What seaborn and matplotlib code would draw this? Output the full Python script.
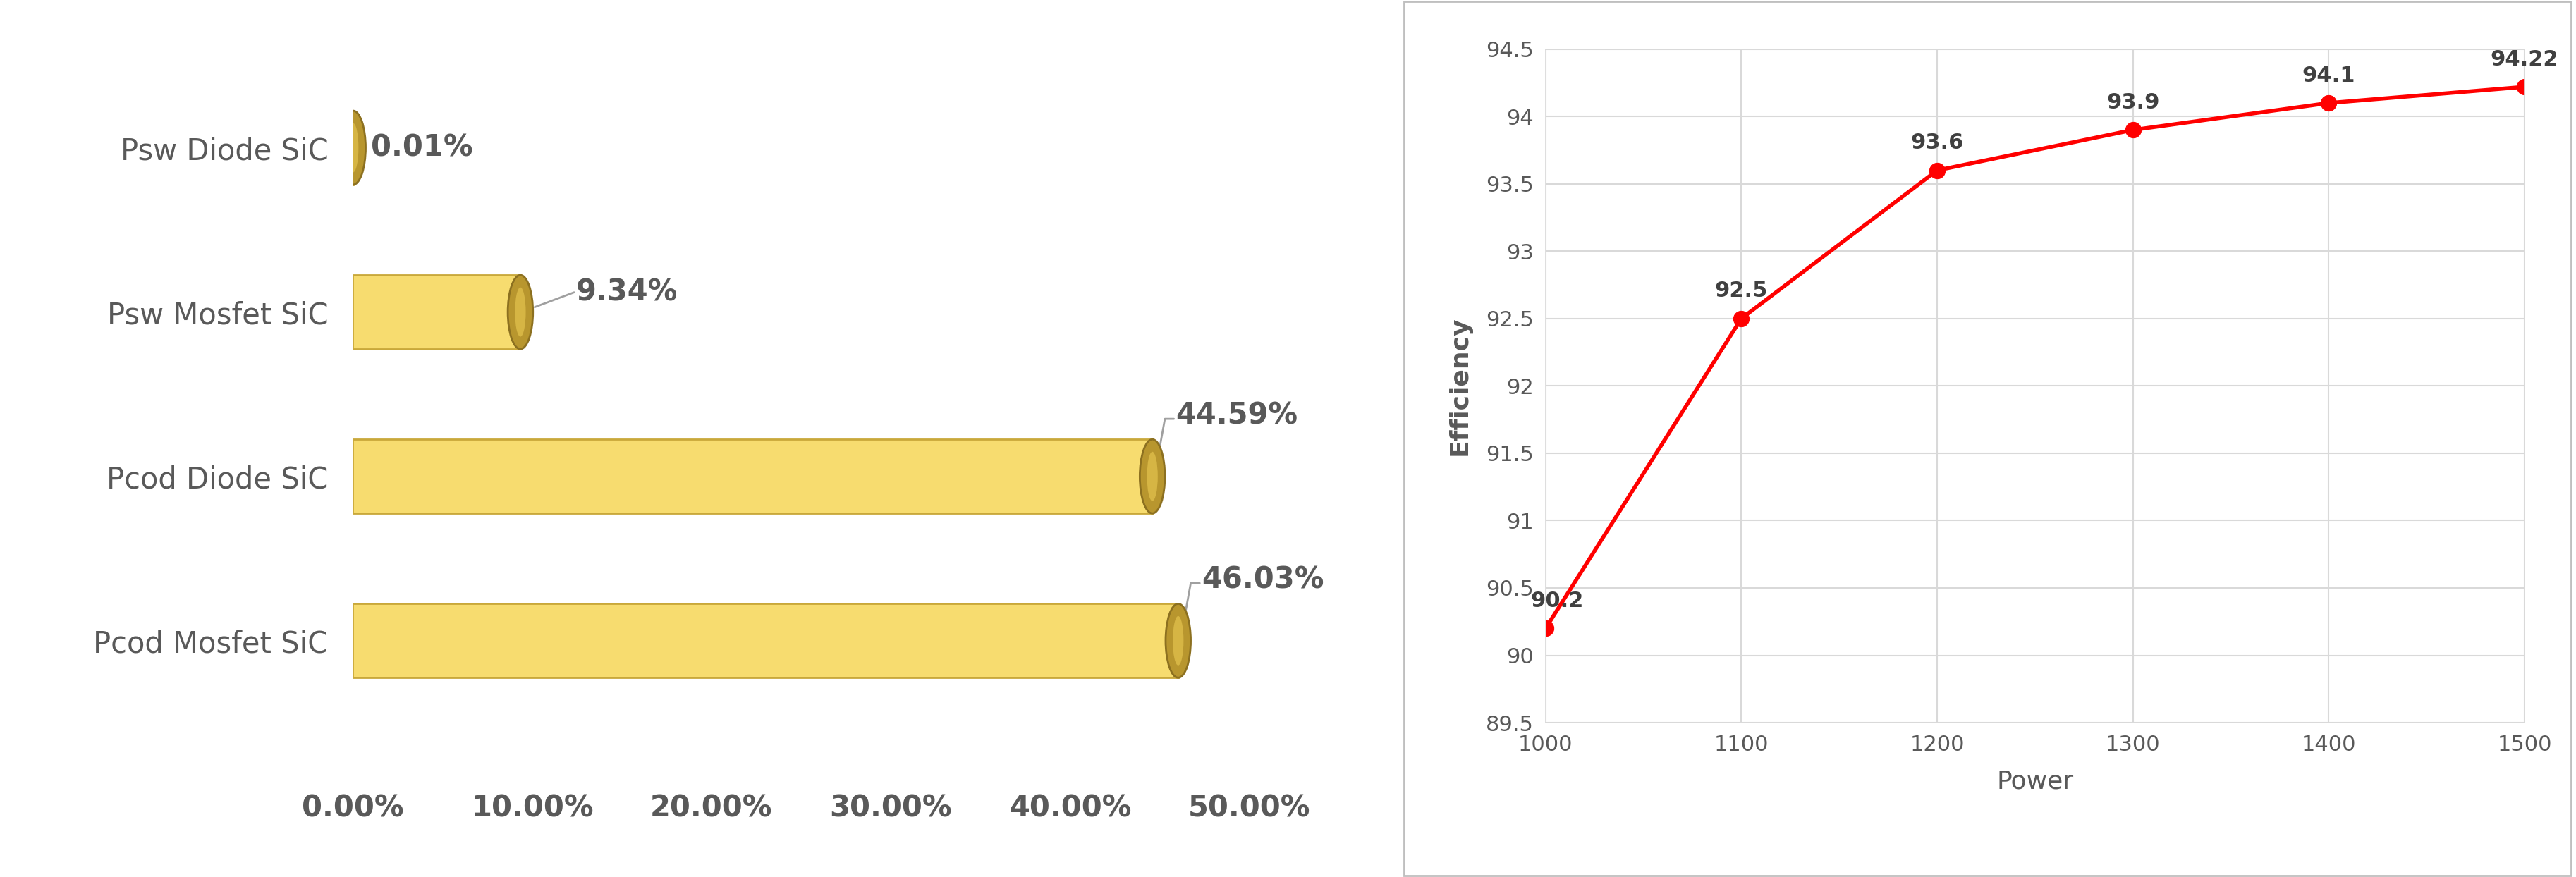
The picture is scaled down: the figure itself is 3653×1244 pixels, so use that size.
import matplotlib
matplotlib.use("Agg")
import matplotlib.pyplot as plt
import seaborn as sns
import pandas as pd
from matplotlib.patches import Ellipse, Rectangle

sns.set_theme(style="white")
plt.rcParams['font.family'] = ['DejaVu Sans']

categories = ["Pcod Mosfet SiC", "Pcod Diode SiC", "Psw Mosfet SiC", "Psw Diode SiC"]
shares = [46.03, 44.59, 9.34, 0.01]
share_labels = ["46.03%", "44.59%", "9.34%", "0.01%"]
power = [1000, 1100, 1200, 1300, 1400, 1500]
efficiency = [90.2, 92.5, 93.6, 93.9, 94.1, 94.22]
eff_labels = ["90.2", "92.5", "93.6", "93.9", "94.1", "94.22"]

fig = plt.figure(figsize=(36.53, 12.44), dpi=100)
gray = "#595959"

# Left: cylinder bar chart
ax1 = fig.add_axes([0.137, 0.157, 0.348, 0.787])
df = pd.DataFrame({"cat": categories, "val": shares})
sns.barplot(data=df, y="cat", x="val", orient="h", ax=ax1, color="#F7DC6F",
            edgecolor="#C9A83A", linewidth=2, saturation=1, width=0.45)
ax1.set_xlim(0, 50)
ax1.set_ylim(-0.6, 3.6)
for i, v in enumerate(shares):
    ax1.add_patch(Ellipse((v, i), 1.4, 0.45, facecolor="#B8962E", edgecolor="#8C7020", lw=2, zorder=3))
    ax1.add_patch(Ellipse((v, i), 0.6, 0.3, facecolor="#D6B544", edgecolor="none", zorder=4))
    if v > 20:
        ax1.plot([v + 0.2, v + 0.7, v + 1.2], [i + 0.05, i + 0.35, i + 0.35], color="#A0A0A0", lw=2)
        ax1.text(v + 1.3, i + 0.37, share_labels[i], fontsize=30, color=gray, weight="bold", va="center")
    elif v > 1:
        ax1.plot([v + 0.8, v + 3], [i + 0.03, i + 0.12], color="#A0A0A0", lw=2)
        ax1.text(v + 3.1, i + 0.12, share_labels[i], fontsize=30, color=gray, weight="bold", va="center")
    else:
        ax1.text(v + 1.0, i, share_labels[i], fontsize=30, color=gray, weight="bold", va="center")
ax1.set_xticks([0, 10, 20, 30, 40, 50])
ax1.set_xticklabels(["0.00%", "10.00%", "20.00%", "30.00%", "40.00%", "50.00%"],
                    fontsize=30, color=gray, weight="bold")
ax1.tick_params(axis="x", pad=55, length=0)
ax1.tick_params(axis="y", length=0, pad=25)
ax1.set_yticklabels(categories, fontsize=30, color=gray)
ax1.set_xlabel("")
ax1.set_ylabel("")
for s in ax1.spines.values():
    s.set_visible(False)

# Frame around right chart
fig.add_artist(Rectangle((0.545, 0.002), 0.453, 0.996, transform=fig.transFigure,
                         fill=False, edgecolor="#BFBFBF", lw=2))

# Right: line chart
ax2 = fig.add_axes([0.600, 0.176, 0.380, 0.768])
sns.lineplot(x=power, y=efficiency, ax=ax2, color="#FF0000", lw=4,
             marker="o", markersize=16, markeredgecolor="#FF0000")
ax2.set_xlim(1000, 1500)
ax2.set_ylim(89.5, 94.5)
ax2.set_xticks(power)
ax2.set_yticks([89.5 + 0.5 * k for k in range(11)])
ax2.set_yticklabels([f"{89.5 + 0.5 * k:g}" for k in range(11)])
ax2.grid(True, color="#D9D9D9", lw=1.5)
ax2.tick_params(labelsize=22, colors=gray, length=0, pad=12)
for s in ax2.spines.values():
    s.set_color("#D9D9D9")
for k, (x, y, t) in enumerate(zip(power, efficiency, eff_labels)):
    dx = 12 if k == 0 else 0
    ax2.annotate(t, (x, y), textcoords="offset points", xytext=(dx, 22),
                 ha="center", fontsize=22, color="#404040", weight="bold")
ax2.set_xlabel("Power", fontsize=26, color=gray, labelpad=15)
ax2.set_ylabel("Efficiency", fontsize=26, color=gray, weight="bold", labelpad=15)

fig.savefig("out.png", dpi=100)
